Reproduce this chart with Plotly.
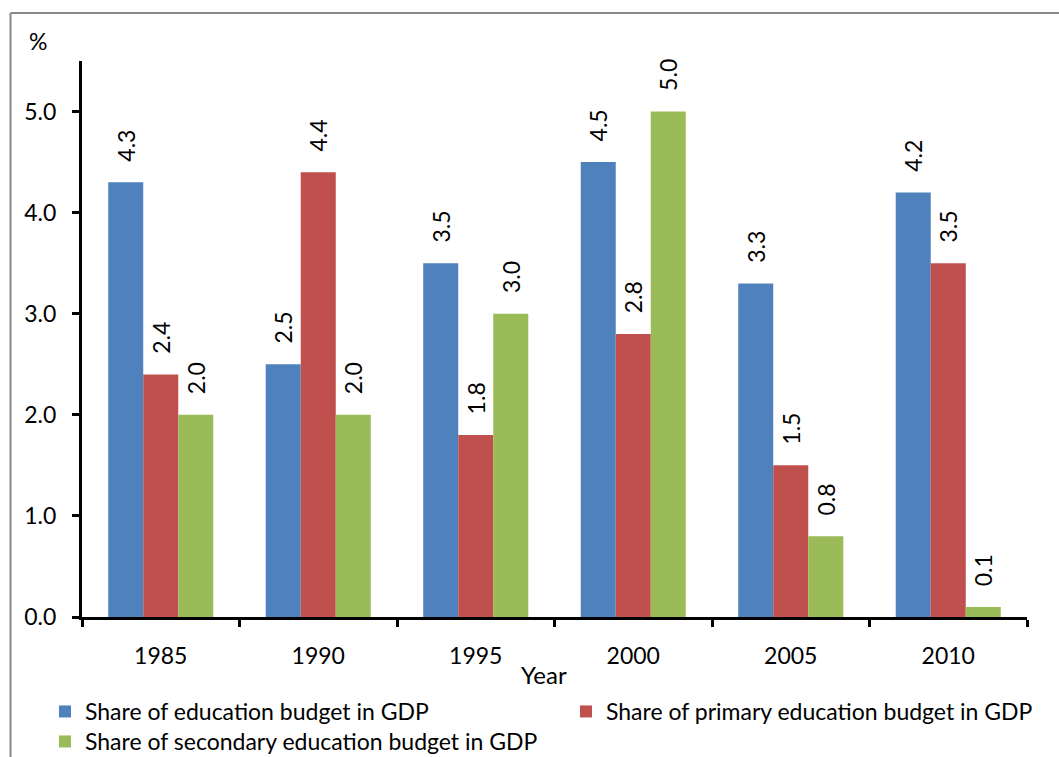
import plotly.graph_objects as go

# Years and the three budget shares (% of GDP)
years = ["1985", "1990", "1995", "2000", "2005", "2010"]
share_total = [4.3, 2.5, 3.5, 4.5, 3.3, 4.2]
share_primary = [2.4, 4.4, 1.8, 2.8, 1.5, 3.5]
share_secondary = [2.0, 2.0, 3.0, 5.0, 0.8, 0.1]

series_names = [
    "Share of education budget in GDP",
    "Share of primary education budget in GDP",
    "Share of secondary education budget in GDP",
]
series_colors = ["#4F81BD", "#C0504D", "#9BBB59"]
series_legends = ["legend", "legend2", "legend3"]

W, H = 1059, 757
ML, MR, MT, MB = 82, 32, 61, 140
PW, PH = W - ML - MR, H - MT - MB


def px_x(px):
    return (px - ML) / PW


def px_y(py):
    return (H - MB - py) / PH


def cont_y(py):
    return 1 - py / H


FONT = "Lato, Calibri, Carlito, sans-serif"
FS = 23

fig = go.Figure()
for name, vals, color, lg in zip(series_names,
                                 [share_total, share_primary, share_secondary],
                                 series_colors, series_legends):
    fig.add_trace(go.Bar(
        name=name,
        x=years,
        y=vals,
        marker=dict(color=color, line=dict(width=0)),
        texttemplate="\u00a0\u00a0\u00a0%{y:.1f}",
        textposition="outside",
        textangle=-90,
        constraintext="none",
        cliponaxis=False,
        textfont=dict(family=FONT, size=FS, color="black"),
        legend=lg,
        showlegend=True,
    ))


def legend_box(x_px, top_px):
    return dict(
        visible=True,
        orientation="v", x=px_x(x_px), xanchor="left",
        yref="container", y=cont_y(top_px), yanchor="top",
        font=dict(family=FONT, size=FS), bgcolor="rgba(0,0,0,0)",
    )


fig.update_layout(
    width=W, height=H,
    showlegend=True,
    margin=dict(l=ML, r=MR, t=MT, b=MB, pad=0),
    paper_bgcolor="white", plot_bgcolor="white",
    font=dict(family=FONT, size=FS, color="black"),
    barmode="group", bargap=0.333, bargroupgap=0,
    xaxis=dict(
        type="category", showgrid=False, zeroline=False,
        showline=True, linecolor="black", linewidth=3,
        ticks="outside", tickson="boundaries", ticklen=7, tickwidth=3,
        tickcolor="black", ticklabelstandoff=16,
        tickfont=dict(family=FONT, size=FS),
    ),
    yaxis=dict(
        range=[0, 5.5], tickvals=[0, 1, 2, 3, 4, 5], tickformat=".1f",
        showgrid=False, zeroline=False,
        showline=True, linecolor="black", linewidth=3,
        ticks="outside", ticklen=7, tickwidth=3, tickcolor="black",
        ticklabelstandoff=11,
        tickfont=dict(family=FONT, size=FS),
    ),
    legend=legend_box(45, 690),
    legend2=legend_box(566, 690),
    legend3=legend_box(45, 720),
    annotations=[
        dict(text="Year", x=px_x(544), y=px_y(674), xref="paper", yref="paper",
             showarrow=False, xanchor="center", yanchor="middle",
             font=dict(family=FONT, size=FS + 1)),
        dict(text="%", x=px_x(38), y=px_y(41), xref="paper", yref="paper",
             showarrow=False, xanchor="center", yanchor="middle",
             font=dict(family=FONT, size=FS)),
    ],
    shapes=[
        # chart frame (left and top edges)
        dict(type="line", xref="paper", yref="paper",
             x0=px_x(10.5), x1=px_x(10.5), y0=px_y(13), y1=px_y(H + 5),
             line=dict(color="#888888", width=2)),
        dict(type="line", xref="paper", yref="paper",
             x0=px_x(10.5), x1=px_x(W + 5), y0=px_y(13), y1=px_y(13),
             line=dict(color="#888888", width=2)),
    ],
)

fig.write_html("out.html")
